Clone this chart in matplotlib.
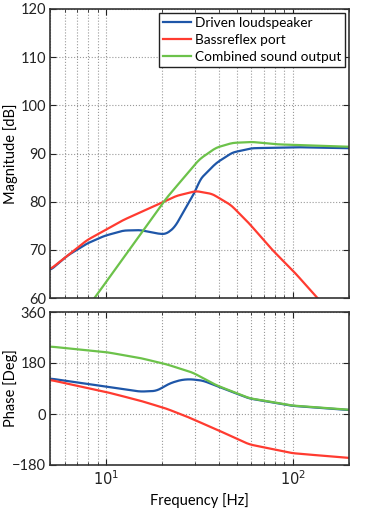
import numpy as np
import matplotlib
matplotlib.use("Agg")
import matplotlib.pyplot as plt

plt.rcParams['font.family'] = ['Lato', 'DejaVu Sans']

# Magnitude data (Hz, dB)
f_blue_mag = [5.03, 6.2, 7.89, 9.8, 12.37, 15.2, 19.4, 21.0, 23.3, 26.5, 30.3, 31.6, 38.8, 47.5, 60.5, 107.6, 198]
blue_mag = [65.8, 68.8, 71.3, 72.9, 74.0, 74.1, 73.3, 73.3, 74.7, 78.5, 82.4, 84.5, 88.0, 90.2, 91.1, 91.3, 91.1]

f_red_mag = [5.03, 7.89, 12.37, 19.4, 23.8, 30.3, 37.0, 46.6, 58.3, 77.6, 103.4, 134.6, 200]
red_mag = [66.0, 72.0, 76.2, 79.6, 81.2, 82.2, 81.6, 79.3, 75.5, 70.0, 65.1, 60.1, 52.8]

f_green_mag = [5.03, 8.74, 21.0, 31.6, 38.8, 47.5, 60.5, 83.0, 198]
green_mag = [47.5, 60.2, 80.7, 88.8, 91.2, 92.2, 92.4, 91.9, 91.4]

# Phase data (Hz, deg)
f_green_ph = [5.03, 10.09, 15.2, 21.0, 29.1, 38.8, 58.3, 98.9, 198]
green_ph = [238, 218, 197.6, 175.6, 146, 102, 56, 30, 15]

f_blue_ph = [5.03, 10.09, 15.2, 18.6, 21.9, 25.0, 28.0, 32.9, 38.8, 58.3, 98.9, 198]
blue_ph = [125, 96.5, 79, 81.5, 108, 120, 123, 118, 100, 55, 29, 14]

f_red_ph = [5.03, 10.09, 15.2, 21.0, 26.8, 38.8, 58.3, 98.9, 198]
red_ph = [120, 77, 47, 19, -8, -54, -107, -138, -155]

x_ticks = [10, 100]
x_tick_labels = [r'$10^{1}$', r'$10^{2}$']
mag_ticks = [60, 70, 80, 90, 100, 110, 120]
ph_ticks = [-180, 0, 180, 360]

BLUE = '#1e56a8'
RED = '#ff3b30'
GREEN = '#6cc24a'

fig = plt.figure(figsize=(3.67, 5.08), dpi=100)
W, H = 367, 508
ax1 = fig.add_axes([50 / W, 1 - 298 / H, (349 - 50) / W, (298 - 9) / H])
ax2 = fig.add_axes([50 / W, 1 - 465 / H, (349 - 50) / W, (465 - 312) / H])

def smooth(fx, fy, n=300, k=9):
    lx = np.log10(fx)
    xs = np.linspace(lx[0], lx[-1], n)
    ys = np.interp(xs, lx, fy)
    ker = np.ones(k) / k
    pad = np.concatenate([np.full(k // 2, ys[0]), ys, np.full(k // 2, ys[-1])])
    ys = np.convolve(pad, ker, mode='valid')
    return 10 ** xs, ys

lw = 1.6
ax1.plot(*smooth(f_blue_mag, blue_mag, 200, 5), color=BLUE, lw=lw, label='Driven loudspeaker')
ax1.plot(*smooth(f_red_mag, red_mag, 200, 5), color=RED, lw=lw, label='Bassreflex port')
ax1.plot(*smooth(f_green_mag, green_mag, 200, 5), color=GREEN, lw=lw, label='Combined sound output')

ax2.plot(*smooth(f_blue_ph, blue_ph), color=BLUE, lw=lw)
ax2.plot(*smooth(f_red_ph, red_ph), color=RED, lw=lw)
ax2.plot(*smooth(f_green_ph, green_ph), color=GREEN, lw=lw)

for ax in (ax1, ax2):
    ax.set_xscale('log')
    ax.set_xlim(5, 200)
    ax.grid(True, which='major', ls=':', color='#999999', lw=0.8)
    ax.grid(True, which='minor', axis='x', ls=':', color='#999999', lw=0.8)
    ax.tick_params(which='both', direction='in', top=True, right=True, labelsize=10.5, colors='#222222', pad=3)
    ax.tick_params(which='major', length=4)
    ax.tick_params(which='minor', length=2)
    for s in ax.spines.values():
        s.set_color('#333333')
        s.set_linewidth(1.2)
    ax.set_xticks(x_ticks)

ax1.set_ylim(60, 120)
ax1.set_yticks(mag_ticks)
ax1.set_xticklabels([])
ax1.set_ylabel('Magnitude [dB]', fontsize=10.5)
ax1.yaxis.set_label_coords(-32 / 299, 0.5)

ax2.set_ylim(-180, 360)
ax2.set_yticks(ph_ticks)
ax2.set_yticklabels(['\u2212180', '0', '180', '360'])
ax2.set_xticklabels(x_tick_labels)
ax2.set_ylabel('Phase [Deg]', fontsize=10.5)
ax2.yaxis.set_label_coords(-32 / 299, 0.5)
ax2.set_xlabel('Frequency [Hz]', fontsize=10.5, labelpad=4)

leg = ax1.legend(loc='upper right', fontsize=9.8, frameon=True, fancybox=False,
                 borderpad=0.3, handlelength=2.1, handletextpad=0.25, labelspacing=0.35,
                 borderaxespad=0.3)
leg.get_frame().set_edgecolor('#222222')
leg.get_frame().set_linewidth(1.0)
leg.get_frame().set_alpha(1)

fig.savefig('out.png', dpi=100)
